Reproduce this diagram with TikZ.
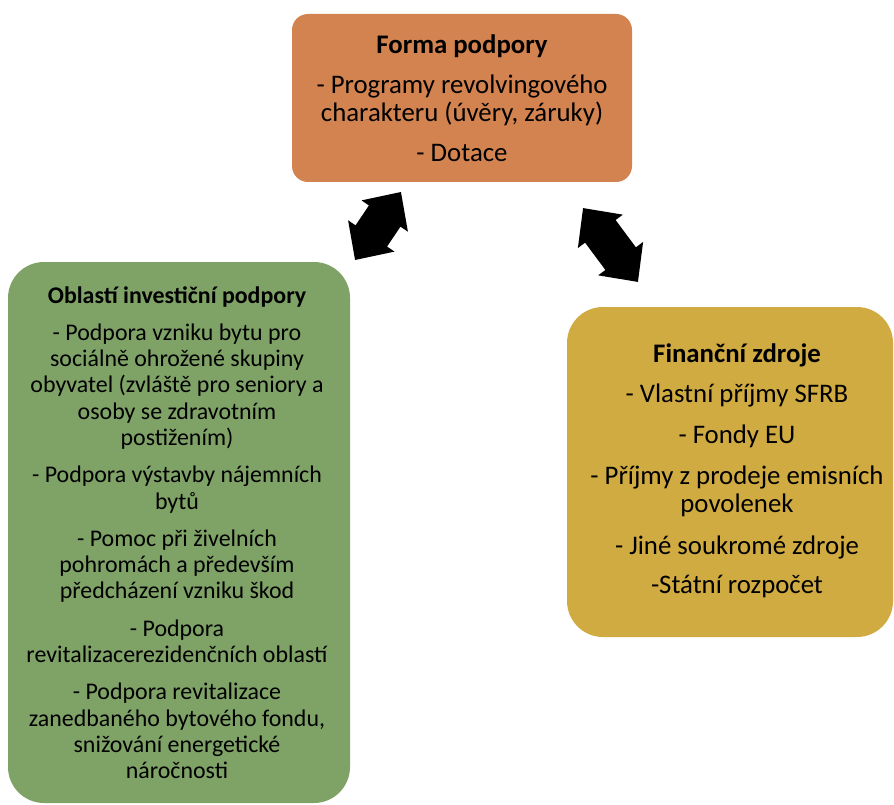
\documentclass[tikz,border=0pt]{standalone}
\usepackage{fontspec}
\setmainfont{Carlito}
\definecolor{orangebox}{RGB}{211,131,79}
\definecolor{greenbox}{RGB}{127,162,103}
\definecolor{goldbox}{RGB}{208,171,66}
\tikzset{
  boxshape/.style={draw=none, rounded corners=#1, inner sep=0pt},
  txt/.style={align=center, inner sep=0pt, font=\fontsize{26.8}{28}\selectfont},
  txtg/.style={align=center, inner sep=0pt, font=\fontsize{23.9}{26.3}\selectfont},
  barrow/.pic={
    \fill[black] (#1,0) -- (#1-29,28) -- (#1-29,19) -- (-#1+29,19) -- (-#1+29,28)
      -- (-#1,0) -- (-#1+29,-28) -- (-#1+29,-19) -- (#1-29,-19) -- (#1-29,-28) -- cycle;
  }
}
\begin{document}
\begin{tikzpicture}[x=1pt,y=-1pt]
\useasboundingbox (0,0) rectangle (894,805);
% boxes
\node[boxshape=16pt, fill=orangebox, minimum width=340pt, minimum height=168pt] (forma) at (462,98) {};
\node[boxshape=36pt, fill=greenbox, minimum width=342pt, minimum height=541pt] (oblast) at (179,532.5) {};
\node[boxshape=36pt, fill=goldbox, minimum width=326pt, minimum height=330pt] (zdroje) at (730,472) {};
% texts
\node[txt] (formaT) at (462,98) {\textbf{Forma podpory}\\[12pt]
- Programy revolvingového\\ charakteru (úvěry, záruky)\\[12pt]
- Dotace};
\node[txtg] (oblastT) at (177,533) {\textbf{Oblastí investiční podpory}\\[10pt]
- Podpora vzniku bytu pro\\ sociálně ohrožené skupiny\\ obyvatel (zvláště pro seniory a\\ osoby se zdravotním\\ postižením)\\[11pt]
- Podpora výstavby nájemních\\ bytů\\[11pt]
- Pomoc při živelních\\ pohromách a především\\ předcházení vzniku škod\\[11pt]
- Podpora\\ revitalizacerezidenčních oblastí\\[11pt]
- Podpora revitalizace\\ zanedbaného bytového fondu,\\ snižování energetické\\ náročnosti};
\node[txt] (zdrojeT) at (737,471) {\textbf{Finanční zdroje}\\[12pt]
- Vlastní příjmy SFRB\\[13pt]
- Fondy EU\\[13pt]
- Příjmy z prodeje emisních\\ povolenek\\[14pt]
- Jiné soukromé zdroje\\[11pt]
-Státní rozpočet};
% block double arrows between the boxes
\coordinate (a1) at (378,226);
\coordinate (a2) at (610.5,245);
\pic[rotate=56] at (a1) {barrow=41};
\pic[rotate=-53.4] at (a2) {barrow=46};
\end{tikzpicture}
\end{document}
